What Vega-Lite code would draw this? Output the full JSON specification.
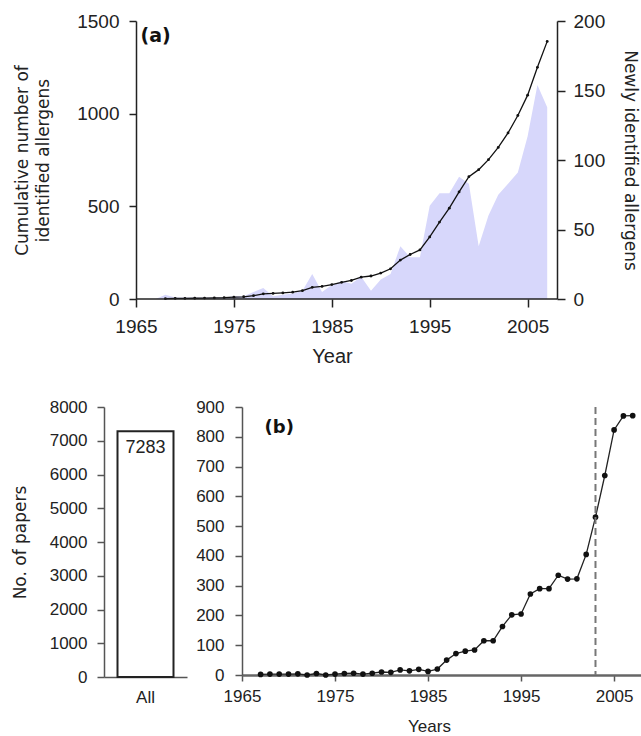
{
  "$schema": "https://vega.github.io/schema/vega-lite/v6.json",
  "padding": {"left": 11, "top": 12, "right": 0, "bottom": 0},
  "background": "white",
  "config": {
    "view": {"stroke": null},
    "font": "Liberation Sans",
    "axis": {
      "grid": false,
      "domainColor": "#222",
      "tickColor": "#222",
      "labelColor": "#222",
      "titleColor": "#222",
      "labelFont": "Liberation Sans",
      "titleFont": "DejaVu Sans",
      "titleFontWeight": "normal",
      "domainWidth": 1.5,
      "tickWidth": 1.5,
      "labelOverlap": false,
      "labelFlush": false,
      "tickCount": 30
    }
  },
  "datasets": {
    "allergens": [
      {"year": 1967, "newly": 0, "cum": null},
      {"year": 1968, "newly": 3, "cum": 2},
      {"year": 1969, "newly": 1, "cum": 3},
      {"year": 1970, "newly": 1, "cum": 3},
      {"year": 1971, "newly": 1, "cum": 4},
      {"year": 1972, "newly": 1, "cum": 5},
      {"year": 1973, "newly": 1, "cum": 6},
      {"year": 1974, "newly": 1, "cum": 7},
      {"year": 1975, "newly": 2, "cum": 10},
      {"year": 1976, "newly": 2, "cum": 12},
      {"year": 1977, "newly": 5, "cum": 18},
      {"year": 1978, "newly": 8, "cum": 28},
      {"year": 1979, "newly": 2, "cum": 30},
      {"year": 1980, "newly": 3, "cum": 33},
      {"year": 1981, "newly": 4, "cum": 37},
      {"year": 1982, "newly": 6, "cum": 45},
      {"year": 1983, "newly": 18, "cum": 63},
      {"year": 1984, "newly": 5, "cum": 68},
      {"year": 1985, "newly": 10, "cum": 78},
      {"year": 1986, "newly": 13, "cum": 90},
      {"year": 1987, "newly": 11, "cum": 100},
      {"year": 1988, "newly": 16, "cum": 118},
      {"year": 1989, "newly": 6, "cum": 124},
      {"year": 1990, "newly": 14, "cum": 140},
      {"year": 1991, "newly": 18, "cum": 163},
      {"year": 1992, "newly": 38, "cum": 210},
      {"year": 1993, "newly": 30, "cum": 240},
      {"year": 1994, "newly": 30, "cum": 265},
      {"year": 1995, "newly": 67, "cum": 335},
      {"year": 1996, "newly": 76, "cum": 415},
      {"year": 1997, "newly": 76, "cum": 490},
      {"year": 1998, "newly": 88, "cum": 578},
      {"year": 1999, "newly": 83, "cum": 660},
      {"year": 2000, "newly": 38, "cum": 698},
      {"year": 2001, "newly": 60, "cum": 752},
      {"year": 2002, "newly": 75, "cum": 818},
      {"year": 2003, "newly": 83, "cum": 896},
      {"year": 2004, "newly": 91, "cum": 990},
      {"year": 2005, "newly": 117, "cum": 1100},
      {"year": 2006, "newly": 154, "cum": 1250},
      {"year": 2007, "newly": 138, "cum": 1390}
    ],
    "papers": [
      {"year": 1967, "papers": 2},
      {"year": 1968, "papers": 3},
      {"year": 1969, "papers": 3},
      {"year": 1970, "papers": 3},
      {"year": 1971, "papers": 4},
      {"year": 1972, "papers": 0},
      {"year": 1973, "papers": 5},
      {"year": 1974, "papers": 0},
      {"year": 1975, "papers": 3},
      {"year": 1976, "papers": 5},
      {"year": 1977, "papers": 6},
      {"year": 1978, "papers": 3},
      {"year": 1979, "papers": 6},
      {"year": 1980, "papers": 10},
      {"year": 1981, "papers": 9},
      {"year": 1982, "papers": 17},
      {"year": 1983, "papers": 14},
      {"year": 1984, "papers": 19},
      {"year": 1985, "papers": 12},
      {"year": 1986, "papers": 20},
      {"year": 1987, "papers": 50},
      {"year": 1988, "papers": 72},
      {"year": 1989, "papers": 80},
      {"year": 1990, "papers": 84},
      {"year": 1991, "papers": 115},
      {"year": 1992, "papers": 115},
      {"year": 1993, "papers": 163},
      {"year": 1994, "papers": 202},
      {"year": 1995, "papers": 205},
      {"year": 1996, "papers": 272},
      {"year": 1997, "papers": 290},
      {"year": 1998, "papers": 290},
      {"year": 1999, "papers": 335},
      {"year": 2000, "papers": 322},
      {"year": 2001, "papers": 323},
      {"year": 2002, "papers": 405},
      {"year": 2003, "papers": 530},
      {"year": 2004, "papers": 670},
      {"year": 2005, "papers": 823},
      {"year": 2006, "papers": 870},
      {"year": 2007, "papers": 871}
    ],
    "total": [
      {"group": "All", "papers": 7283}
    ],
    "marker": [
      {"year": 2003}
    ],
    "labels": [
      {"panel": "a", "label": "(a)", "x": 1967, "y": 1420},
      {"panel": "b", "label": "(b)", "x": 1969, "y": 830}
    ]
  },
  "columns": 1,
  "align": "none",
  "spacing": 32,
  "concat": [
    {
      "width": 453,
      "height": 278,
      "data": {"name": "allergens"},
      "layer": [
        {
          "mark": {"type": "area", "color": "#d7d7fb", "interpolate": "linear", "opacity": 1},
          "encoding": {
            "x": {
              "field": "year", "type": "quantitative",
              "scale": {"domain": [1961.73, 2008], "nice": false, "zero": false},
              "axis": {
                "values": [1965, 1975, 1985, 1995, 2005], "format": "d", "domain": false,
                "title": "Year", "titleFont": "Liberation Sans", "titleFontSize": 20, "labelFontSize": 19,
                "tickSize": 8, "labelPadding": 10, "titlePadding": 10, "titleX": 228
              }
            },
            "y": {
              "field": "newly", "type": "quantitative",
              "scale": {"domain": [0, 200], "nice": false},
              "axis": {
                "orient": "right", "values": [0, 50, 100, 150, 200], "format": "d",
                "title": "Newly identified allergens", "titleFontSize": 17,
                "labelFontSize": 19, "tickSize": 8, "labelPadding": 8, "titlePadding": 16
              }
            }
          }
        },
        {
          "layer": [
            {
              "transform": [{"filter": "datum.cum != null"}],
              "mark": {"type": "line", "color": "#111", "strokeWidth": 1.3, "point": {"filled": true, "size": 8, "color": "#111"}},
              "encoding": {
                "x": {"field": "year", "type": "quantitative"},
                "y": {
                  "field": "cum", "type": "quantitative",
                  "scale": {"domain": [0, 1500], "nice": false},
                  "axis": {
                    "orient": "left", "values": [0, 500, 1000, 1500], "format": "d", "offset": -32,
                    "title": ["Cumulative number of", "identified allergens"],
                    "titleFontSize": 17, "titleLineHeight": 21,
                    "labelFontSize": 19, "tickSize": 7, "labelPadding": 10, "titlePadding": 24
                  }
                }
              }
            },
            {
              "data": {"name": "allergens"},
              "transform": [{"filter": "datum.year == 1968"}],
              "mark": {"type": "rule", "color": "#222", "strokeWidth": 1.5},
              "encoding": {"x": {"datum": 1965}, "x2": {"datum": 2008}, "y": {"datum": 0}}
            },
            {
              "data": {"name": "labels"},
              "transform": [{"filter": "datum.panel == 'a'"}],
              "mark": {"type": "text", "fontWeight": "bold", "fontSize": 19, "font": "DejaVu Sans", "color": "#111"},
              "encoding": {
                "x": {"field": "x", "type": "quantitative"},
                "y": {"field": "y", "type": "quantitative"},
                "text": {"field": "label"}
              }
            }
          ]
        }
      ],
      "resolve": {"scale": {"y": "independent"}}
    },
    {
      "spacing": 8,
      "hconcat": [
        {
          "width": 83,
          "height": 270,
          "data": {"name": "total"},
          "layer": [
            {
              "mark": {"type": "bar", "fill": "white", "stroke": "#222", "strokeWidth": 2, "size": 56},
              "encoding": {
                "x": {
                  "field": "group", "type": "nominal",
                  "axis": {"title": null, "labelAngle": 0, "ticks": false, "labelFontSize": 17, "labelPadding": 12, "domainColor": "#555"}
                },
                "y": {
                  "field": "papers", "type": "quantitative",
                  "scale": {"domain": [0, 8000], "nice": false},
                  "axis": {
                    "values": [0, 1000, 2000, 3000, 4000, 5000, 6000, 7000, 8000], "format": "d",
                    "title": "No. of papers", "titleFontSize": 17,
                    "labelFontSize": 17, "tickSize": 7, "labelPadding": 10, "titlePadding": 20,
                    "domainColor": "#555", "tickColor": "#555"
                  }
                }
              }
            },
            {
              "mark": {"type": "text", "baseline": "top", "dy": 8, "fontSize": 18, "color": "#222"},
              "encoding": {
                "x": {"field": "group", "type": "nominal"},
                "y": {"field": "papers", "type": "quantitative"},
                "text": {"field": "papers", "type": "quantitative", "format": "d"}
              }
            }
          ]
        },
        {
          "width": 400,
          "height": 268,
          "layer": [
            {
              "data": {"name": "papers"},
              "mark": {"type": "line", "color": "#222", "strokeWidth": 1.3, "point": {"filled": true, "size": 32, "color": "#111"}},
              "encoding": {
                "x": {
                  "field": "year", "type": "quantitative",
                  "scale": {"domain": [1965, 2008], "nice": false, "zero": false},
                  "axis": {
                    "values": [1965, 1975, 1985, 1995, 2005], "format": "d",
                    "title": "Years", "titleFontSize": 17, "titleFont": "Liberation Sans",
                    "labelFontSize": 17, "tickSize": 6, "labelPadding": 7, "titlePadding": 14, "titleX": 187,
                    "domainColor": "#666", "domainWidth": 2.5, "tickColor": "#555"
                  }
                },
                "y": {
                  "field": "papers", "type": "quantitative",
                  "scale": {"domain": [0, 900], "nice": false},
                  "axis": {
                    "values": [0, 100, 200, 300, 400, 500, 600, 700, 800, 900], "format": "d",
                    "title": null, "labelFontSize": 17, "tickSize": 7, "labelPadding": 11,
                    "domainColor": "#555", "tickColor": "#555"
                  }
                }
              }
            },
            {
              "data": {"name": "marker"},
              "mark": {"type": "rule", "color": "#777", "strokeDash": [7, 4], "strokeWidth": 2},
              "encoding": {"x": {"field": "year", "type": "quantitative"}}
            },
            {
              "data": {"name": "labels"},
              "transform": [{"filter": "datum.panel == 'b'"}],
              "mark": {"type": "text", "fontWeight": "bold", "fontSize": 18, "font": "DejaVu Sans", "color": "#111"},
              "encoding": {
                "x": {"field": "x", "type": "quantitative"},
                "y": {"field": "y", "type": "quantitative"},
                "text": {"field": "label"}
              }
            }
          ]
        }
      ]
    }
  ]
}
